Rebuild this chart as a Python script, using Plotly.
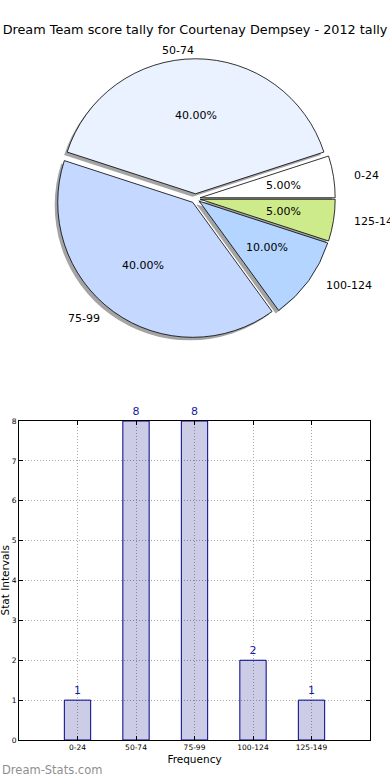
import math
import plotly.graph_objects as go

title_text = "Dream Team score tally for Courtenay Dempsey - 2012 tally"
categories = ["0-24", "50-74", "75-99", "100-124", "125-149"]
counts = [1, 8, 8, 2, 1]
pie_colors = ["#ffffff", "#eaf1ff", "#c5d8ff", "#b3d5ff", "#cdeb8b"]
explode = [0.035, 0.035, 0.035, 0.035, 0.035]
y_ticks = [0, 1, 2, 3, 4, 5, 6, 7, 8]

W, H = 390, 780
FONT = "DejaVu Sans"

total = sum(counts)
# matplotlib-style start at 3 o'clock, counterclockwise; plotly's counterclockwise
# mode ends the first slice at `rotation`, so shift by the first slice's angle
rotation = 90 - 360 * counts[0] / total

# pie geometry (pixels)
cx_px, cy_px, r_px = 195.5, 198.5, 135.0
# text placement radii (reference pie is slightly wider than tall)
rx_txt, ry_txt = 140.0, 130.0
maxpull = max(explode)
box = 2 * r_px * (1 + maxpull)
dom_x = [(cx_px - box / 2) / W, (cx_px + box / 2) / W]
dom_y = [1 - (cy_px + box / 2) / H, 1 - (cy_px - box / 2) / H]
sh_dx, sh_dy = -3.0, 3.0
sdom_x = [dom_x[0] + sh_dx / W, dom_x[1] + sh_dx / W]
sdom_y = [dom_y[0] - sh_dy / H, dom_y[1] - sh_dy / H]

fig = go.Figure()

# shadow
fig.add_trace(go.Pie(
    labels=categories, values=counts, sort=False, direction="counterclockwise",
    rotation=rotation, pull=explode, domain=dict(x=sdom_x, y=sdom_y),
    marker=dict(colors=["rgba(90,90,90,0.55)"] * len(counts), line=dict(width=0)),
    textinfo="none", hoverinfo="skip", showlegend=False,
))
# pie
fig.add_trace(go.Pie(
    labels=categories, values=counts, sort=False, direction="counterclockwise",
    rotation=rotation, pull=explode, domain=dict(x=dom_x, y=dom_y),
    marker=dict(colors=pie_colors, line=dict(color="black", width=0.8)),
    textinfo="none", showlegend=False,
))

annotations = []
start = 0.0
for cat, c, p in zip(categories, counts, explode):
    frac = c / total
    mid = math.radians(start + frac * 360 / 2)
    start += frac * 360
    ox, oy = p * r_px * math.cos(mid), p * r_px * math.sin(mid)
    # percentage
    px = cx_px + ox + 0.6 * rx_txt * math.cos(mid)
    py = cy_px - oy - 0.6 * ry_txt * math.sin(mid)
    annotations.append(dict(
        x=px / W, y=1 - py / H, xref="paper", yref="paper",
        text=f"{100 * frac:.2f}%", showarrow=False,
        xanchor="center", yanchor="middle",
        font=dict(family=FONT, size=11, color="black"),
    ))
    # label
    lx = cx_px + ox + 1.1 * rx_txt * math.cos(mid)
    ly = cy_px - oy - 1.1 * ry_txt * math.sin(mid)
    annotations.append(dict(
        x=lx / W, y=1 - ly / H, xref="paper", yref="paper",
        text=cat, showarrow=False,
        xanchor="left" if math.cos(mid) > 1e-9 else "right", yanchor="middle",
        font=dict(family=FONT, size=11, color="black"),
    ))

# bar chart
fig.add_trace(go.Bar(
    x=categories, y=counts, width=0.45,
    marker=dict(color="rgba(0,0,128,0.2)", line=dict(color="#00008b", width=1)),
    text=[str(v) for v in counts], textposition="outside",
    textfont=dict(family=FONT, size=11, color="#1a1aa0"),
    cliponaxis=False, showlegend=False, xaxis="x", yaxis="y",
))

ax_left, ax_right, ax_top, ax_bottom = 19, 370, 421, 740
annotations.append(dict(
    x=4 / W, y=1 - (ax_top + ax_bottom) / 2 / H, xref="paper", yref="paper",
    text="Stat Intervals", textangle=-90, showarrow=False,
    xanchor="center", yanchor="middle",
    font=dict(family=FONT, size=10.5, color="black"),
))
annotations.append(dict(
    x=0, y=1 - 770 / H, xref="paper", yref="paper",
    text="Dream-Stats.com", showarrow=False, xanchor="left", yanchor="middle",
    font=dict(family=FONT, size=11.5, color="#8f8f8f"),
))

grid_dash = "1px,2px"
fig.update_layout(
    width=W, height=H,
    margin=dict(l=0, r=0, t=0, b=0, autoexpand=False),
    paper_bgcolor="white", plot_bgcolor="white",
    font=dict(family=FONT, color="black"),
    title=dict(text=title_text, x=0.5, xanchor="center", y=1 - 30 / H,
               yanchor="middle", font=dict(family=FONT, size=12.8, color="black")),
    xaxis=dict(
        domain=[ax_left / W, ax_right / W], anchor="y", type="category",
        range=[-1, 5], showgrid=True, gridcolor="#a8a8a8", griddash=grid_dash,
        gridwidth=1, showline=True, linecolor="black", linewidth=1, mirror="ticks",
        ticks="inside", ticklen=4, tickcolor="black",
        tickfont=dict(family=FONT, size=7.5, color="black"),
        title=dict(text="Frequency", font=dict(family=FONT, size=10.5), standoff=4),
        zeroline=False, fixedrange=True, automargin=False,
    ),
    yaxis=dict(
        domain=[1 - ax_bottom / H, 1 - ax_top / H], anchor="x",
        range=[0, 8], tickvals=y_ticks, showgrid=True, gridcolor="#a8a8a8",
        griddash=grid_dash, gridwidth=1, showline=True, linecolor="black",
        linewidth=1, mirror="ticks", ticks="inside", ticklen=4, tickcolor="black",
        tickfont=dict(family=FONT, size=7.5, color="black"),
        zeroline=False, fixedrange=True, automargin=False,
    ),
    annotations=annotations,
)

fig.write_html(
    "out.html",
    config={"displayModeBar": False},
    post_script="document.body.style.margin='0';document.body.style.padding='0';",
)
